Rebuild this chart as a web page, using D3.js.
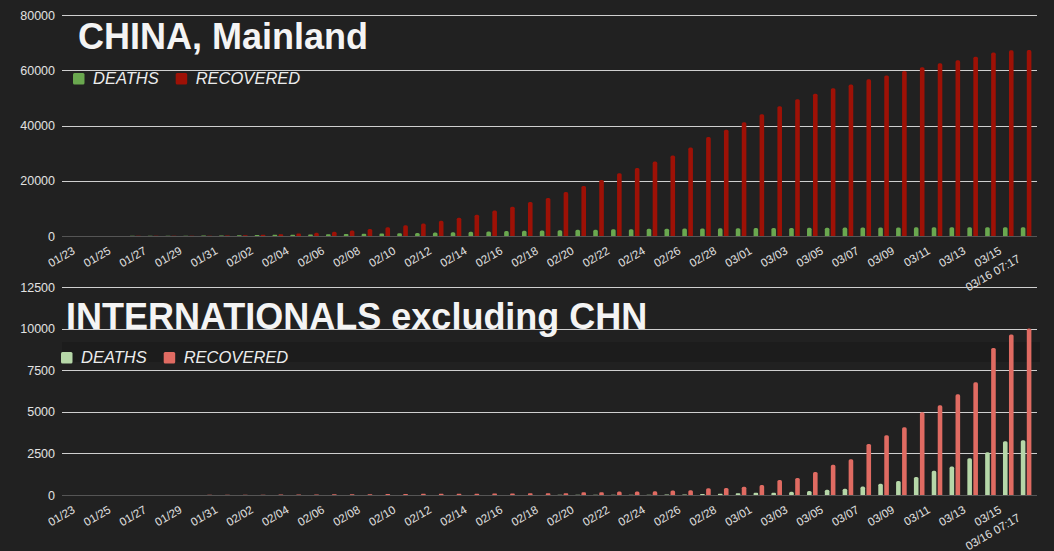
<!DOCTYPE html>
<html>
<head>
<meta charset="utf-8">
<script src="https://cdnjs.cloudflare.com/ajax/libs/d3/7.8.5/d3.min.js"></script>
<style>
  html, body { margin: 0; padding: 0; background: #212121; }
  svg { display: block; font-family: "Liberation Sans", Arial, sans-serif; }
</style>
</head>
<body>
<div id="root"></div>
<script>
// categories (one bar pair per day)
const dates = [
  "01/23", "01/24", "01/25", "01/26", "01/27", "01/28", "01/29", "01/30", "01/31",
  "02/01", "02/02", "02/03", "02/04", "02/05", "02/06", "02/07", "02/08", "02/09", "02/10",
  "02/11", "02/12", "02/13", "02/14", "02/15", "02/16", "02/17", "02/18", "02/19", "02/20",
  "02/21", "02/22", "02/23", "02/24", "02/25", "02/26", "02/27", "02/28", "02/29",
  "03/01", "03/02", "03/03", "03/04", "03/05", "03/06", "03/07", "03/08", "03/09", "03/10",
  "03/11", "03/12", "03/13", "03/14", "03/15", "03/16 07:17"
];

const chinaDeaths = [
  18, 26, 42, 56, 82, 131, 133, 171, 213,
  259, 361, 425, 490, 562, 632, 717, 804, 904, 1011,
  1111, 1260, 1380, 1520, 1660, 1770, 1870, 2000, 2110, 2240,
  2240, 2440, 2440, 2590, 2660, 2710, 2740, 2790, 2830,
  2870, 2910, 2940, 2980, 3010, 3040, 3070, 3100, 3120, 3140,
  3160, 3170, 3180, 3190, 3200, 3210
];

const chinaRecovered = [
  30, 36, 39, 49, 58, 101, 120, 135, 214,
  275, 463, 650, 900, 1150, 1550, 2000, 2550, 3200, 3850,
  4500, 5500, 6650, 7700, 9200, 10600, 12300, 13750, 15900, 18100,
  20300, 22750, 24600, 26950, 29100, 32000, 35800, 38500, 41200,
  44100, 47000, 49500, 51500, 53500, 54800, 56700, 58100, 59750, 61100,
  62500, 63600, 64900, 66400, 67200, 67300
];

const intlDeaths = [
  0, 0, 0, 0, 0, 0, 0, 0, 0,
  1, 1, 1, 1, 1, 1, 1, 1, 1, 1,
  1, 1, 2, 3, 3, 4, 4, 4, 8, 10,
  12, 15, 18, 20, 25, 30, 60, 80, 100,
  130, 135, 195, 245, 315, 375, 505, 675, 845, 1085,
  1455, 1710, 2210, 2570, 3230, 3290
];

const intlRecovered = [
  0, 0, 0, 0, 0, 0, 0, 10, 12,
  15, 20, 25, 30, 35, 40, 45, 50, 55, 60,
  70, 70, 75, 80, 85, 95, 100, 100, 110, 165,
  165, 215, 215, 220, 275, 285, 405, 425, 495,
  595, 905, 1025, 1385, 1815, 2150, 3070, 3590, 4070, 4970,
  5390, 6050, 6770, 8840, 9650, 10000
];

const chinaTicks = [0, 20000, 40000, 60000, 80000];
const intlTicks = [0, 2500, 5000, 7500, 10000, 12500];
const legendNames = ["DEATHS", "RECOVERED"];

const outerWidth = 1054;
const outerHeight = 551;
const gridLeft = 62;
const gridRight = 1037;

let svg = d3.select("#root")
            .append("svg")
            .attr("width", outerWidth)
            .attr("height", outerHeight);

svg.append("rect")
    .attr("width", outerWidth)
    .attr("height", outerHeight)
    .attr("fill", "#212121");

let scaleX = d3.scaleBand().domain(dates).range([73, 1035]);

// rounded top bar
function barPath(x, y0, y1, w, r) {
    let h = y0 - y1;
    r = Math.min(r, h / 2, w / 2);
    return `M${x},${y0}V${y1 + r}Q${x},${y1} ${x + r},${y1}H${x + w - r}Q${x + w},${y1} ${x + w},${y1 + r}V${y0}Z`;
}

function drawPanel(p) {
    let scaleY = d3.scaleLinear().domain([0, p.max]).range([p.bottom, p.top]);
    let g = svg.append("g");

    if (p.band) {
        g.append("rect")
            .attr("x", gridLeft).attr("y", p.band[0])
            .attr("width", gridRight - gridLeft + 3).attr("height", p.band[1] - p.band[0])
            .attr("fill", "#1c1c1c");
    }

    // gridlines
    g.selectAll(".grid")
        .data(p.ticks)
        .enter().append("line")
        .attr("x1", gridLeft).attr("x2", gridRight)
        .attr("y1", d => Math.round(scaleY(d)) + 0.5)
        .attr("y2", d => Math.round(scaleY(d)) + 0.5)
        .attr("stroke", d => d === 0 ? "#555555" : "#cfcfcf")
        .attr("stroke-width", 1);

    // y axis labels
    let yAxis = d3.axisLeft(scaleY).tickValues(p.ticks).tickSize(0).tickPadding(0).tickFormat(d3.format("d"));
    let ya = g.append("g")
        .attr("transform", `translate(55, 0)`)
        .call(yAxis);
    ya.select(".domain").remove();
    ya.selectAll("text")
        .attr("fill", "#e2e2e2")
        .style("font-size", "12.5px")
        .style("font-family", "'Liberation Sans', Arial, sans-serif");

    // bars
    let bw = 4.6;
    let series = [
        { values: p.deaths, color: p.colors[0], off: -5.3 },
        { values: p.recovered, color: p.colors[1], off: 0.7 }
    ];
    series.forEach(s => {
        g.selectAll(null)
            .data(dates.map((d, i) => ({ date: d, v: s.values[i] })).filter(e => e.v > 0))
            .enter().append("path")
            .attr("d", e => barPath(scaleX(e.date) + scaleX.bandwidth() / 2 + s.off, p.bottom, scaleY(e.v), bw, 1.6))
            .attr("fill", s.color);
    });

    // x labels, every second day plus the last one
    let last = dates.length - 1;
    g.selectAll(".xlab")
        .data(dates.filter((d, i) => i % 2 === 0 || i === last))
        .enter().append("text")
        .attr("transform", d => {
            let c = scaleX(d) + scaleX.bandwidth() / 2;
            return d === dates[last]
                ? `translate(${c - 5}, ${p.bottom + 25}) rotate(-30)`
                : `translate(${c - 6}, ${p.bottom + 17}) rotate(-30)`;
        })
        .attr("text-anchor", "end")
        .attr("fill", "#e2e2e2")
        .style("font-size", "11.5px")
        .text(d => d);

    // title
    g.append("text")
        .attr("x", p.titleX).attr("y", p.titleY)
        .attr("fill", "#f4f4f4")
        .style("font-size", "36px")
        .style("font-weight", "bold")
        .text(p.title);

    // legend
    let lx = p.legendX;
    legendNames.forEach((name, i) => {
        g.append("rect")
            .attr("x", lx).attr("y", p.legendY - 11)
            .attr("width", 11.5).attr("height", 11.5)
            .attr("rx", 1.5)
            .attr("fill", p.colors[i]);
        let t = g.append("text")
            .attr("x", lx + 20).attr("y", p.legendY)
            .attr("fill", "#ececec")
            .style("font-size", "16.5px")
            .style("font-style", "italic")
            .text(name);
        lx += 20 + t.node().getComputedTextLength() + 17;
    });
}

drawPanel({
    max: 80000, ticks: chinaTicks, top: 15, bottom: 236,
    deaths: chinaDeaths, recovered: chinaRecovered,
    colors: ["#6aa84f", "#9e1106"],
    title: "CHINA, Mainland", titleX: 78, titleY: 49,
    legendX: 73, legendY: 84
});

drawPanel({
    max: 12500, ticks: intlTicks, top: 287, bottom: 495,
    deaths: intlDeaths, recovered: intlRecovered,
    colors: ["#b6d7a8", "#e06b62"],
    title: "INTERNATIONALS excluding CHN", titleX: 66, titleY: 329,
    legendX: 61, legendY: 363,
    band: [342, 362]
});
</script>
</body>
</html>
